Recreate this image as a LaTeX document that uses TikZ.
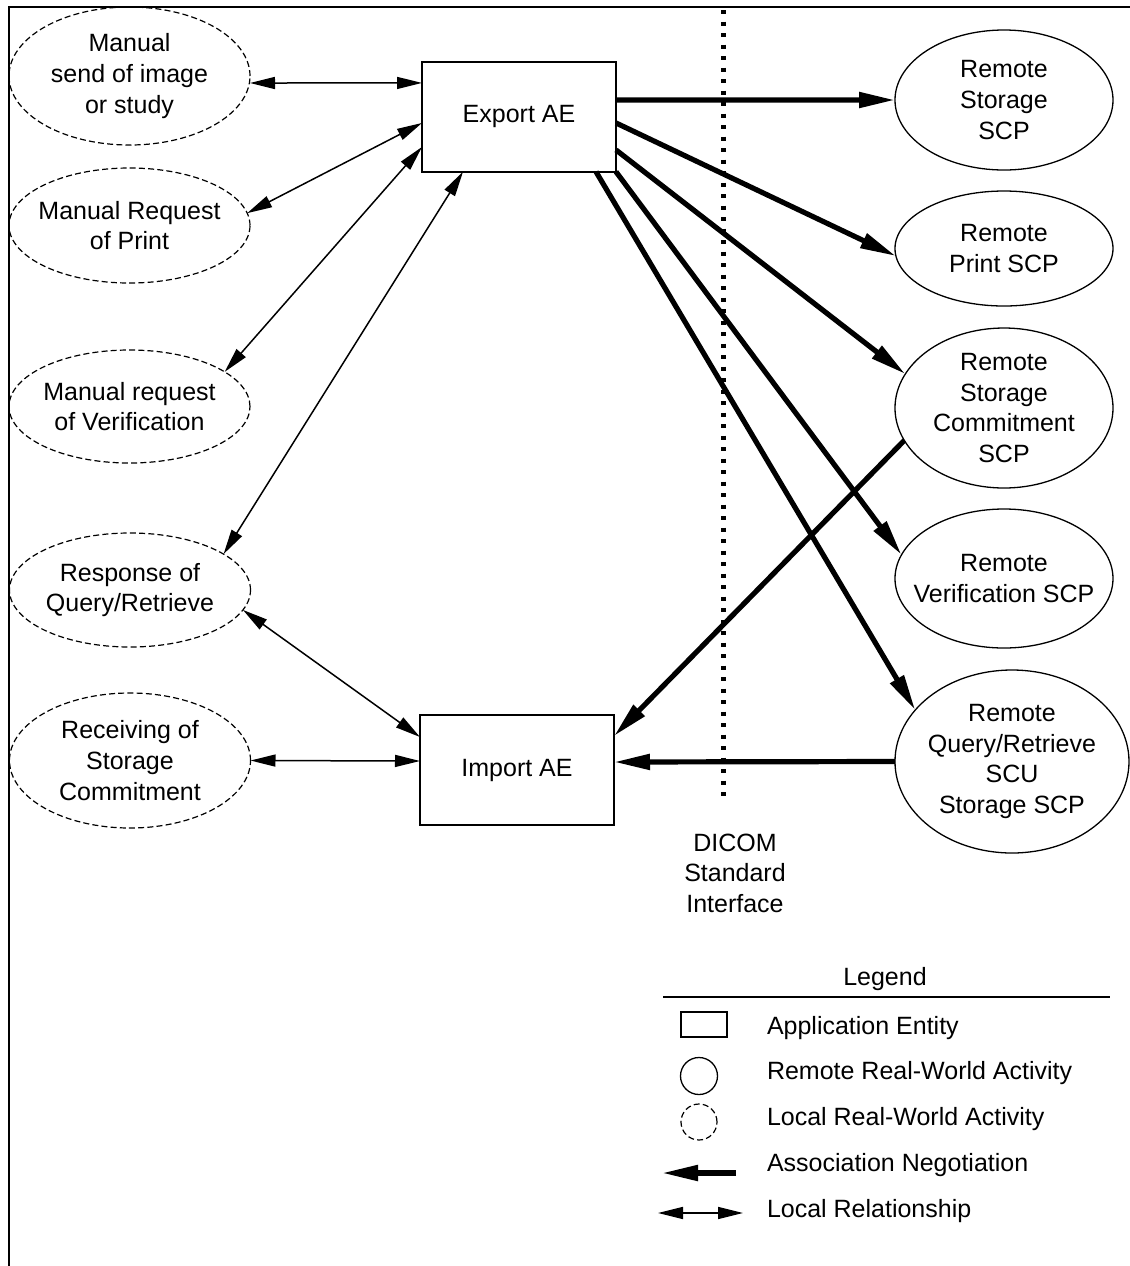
\documentclass[tikz,border=0pt]{standalone}
\usepackage{fontspec}
\setmainfont{Liberation Sans}
\usetikzlibrary{shapes.geometric}
\usetikzlibrary{arrows.meta}

\begin{document}
\begin{tikzpicture}[x=0.5pt,y=-0.5pt,
  font=\fontsize{12.5pt}{15.3pt}\selectfont,
  aebox/.style={rectangle,draw=drawColor,fill=fillColor,line width=0.8pt,minimum width=97pt,minimum height=55pt,inner sep=0pt,outer sep=0pt},
  remoteact/.style={ellipse,draw=drawColor,line width=0.65pt,minimum width=109pt,inner xsep=-8pt,inner ysep=-6pt,outer sep=0pt,align=center},
  localact/.style={ellipse,draw=drawColor,line width=0.6pt,dash pattern=on 3pt off 1.6pt,minimum width=120.5pt,inner xsep=-8pt,inner ysep=-6pt,outer sep=0pt,align=center},
  assoc/.style={draw=drawColor,line width=2.6pt,-{Triangle[length=18pt,width=7.5pt]}},
  localrel/.style={draw=drawColor,line width=0.75pt,{Triangle[length=12.5pt,width=6pt]}-{Triangle[length=12.5pt,width=6pt]}},
  legendtext/.style={anchor=mid west,inner sep=0pt,outer sep=0pt}]
\definecolor{fillColor}{RGB}{255,255,255}
\definecolor{drawColor}{RGB}{0,0,0}
\path[use as bounding box,fill=fillColor] (0,0) rectangle (1130,1266);

\begin{scope}
\path[draw=drawColor,line width=1pt] (1130,7) -- (9,7) -- (9,1266);
\end{scope}

\begin{scope}
\node[localact,minimum height=69pt] (lsend) at (129.5,76) {Manual\\send of image\\or study};
\node[localact,minimum height=57.5pt] (lprint) at (129.5,225.5) {Manual Request\\of Print};
\node[localact,minimum height=56.5pt] (lverif) at (129.5,406.5) {Manual request\\of Verification};
\node[localact,minimum height=57pt] (lresp) at (130,590) {Response of\\Query/Retrieve};
\node[localact,minimum height=67.5pt] (lrecv) at (130,760.5) {Receiving of\\Storage\\Commitment};

\node[aebox] (export) at (519,116.75) {Export AE};
\node[aebox] (import) at (517,770) {Import AE};

\node[remoteact,minimum height=70pt] (rstore) at (1004,100) {Remote\\Storage\\SCP};
\node[remoteact,minimum height=57.5pt] (rprint) at (1004,248.5) {Remote\\Print SCP};
\node[remoteact,minimum height=80pt] (rcommit) at (1004,408) {Remote\\Storage\\Commitment\\SCP};
\node[remoteact,minimum height=69.5pt] (rverif) at (1004,578.5) {Remote\\Verification SCP};
\node[remoteact,minimum width=117pt,minimum height=91.5pt] (rquery) at (1012,761.5) {Remote\\Query/Retrieve\\SCU\\Storage SCP};
\end{scope}

\begin{scope}
\path[localrel] ([yshift=-3.5pt]lsend.east) -- ([yshift=16.9pt]export.west);
\path[localrel] ([yshift=-3.1pt]export.west) -- (lprint.6);
\path[localrel] ([yshift=-15.1pt]export.west) -- (lverif.20);
\path[localrel] ([xshift=-28pt]export.south) -- (lresp.21);
\path[localrel] (lresp.-10) -- ([yshift=16.5pt]import.west);
\path[localrel] (lrecv.east) -- ([yshift=4.5pt]import.west);

\path[assoc] ([yshift=8.4pt]export.east) -- (rstore.west);
\path[assoc] ([yshift=-3.1pt]export.east) -- (rprint.184);
\path[assoc] ([yshift=-16.6pt]export.east) -- (rcommit.161);
\path[assoc] (export.south east) -- (rverif.167);
\path[assoc] ([xshift=38.5pt]export.south) -- (rquery.152);
\path[assoc] (rcommit.198) -- ([yshift=17pt]import.east);
\path[assoc] (rquery.west) -- ([yshift=4pt]import.east);
\end{scope}

\begin{scope}
\coordinate (ifacetop) at (723.5,10);
\coordinate (ifacebot) at (723.5,802);
\path[draw=drawColor,line width=2.2pt,dash pattern=on 2pt off 3.75pt] (ifacetop) -- (ifacebot);
\node[align=center,inner sep=0pt] (dicom) at (735,873) {DICOM\\Standard\\Interface};
\end{scope}

\begin{scope}
\node[inner sep=0pt] (legendtitle) at (885,979) {Legend};
\path[draw=drawColor,line width=1pt] (663,997) -- (1110,997);

\node[aebox,minimum width=23pt,minimum height=12.5pt] (legae) at (704,1024.5) {};
\node[remoteact,minimum size=18.5pt] (legremote) at (699,1076) {};
\node[localact,minimum size=18pt] (leglocal) at (699,1122) {};
\coordinate (assocstart) at (736,1173);
\coordinate (assocend) at (662,1173);
\path[assoc] (assocstart) -- (assocend);
\coordinate (relleft) at (658,1213);
\coordinate (relright) at (743,1213);
\path[localrel] (relleft) -- (relright);

\node[legendtext] (legaetext) at (767,1029) {Application Entity};
\node[legendtext] (legremotetext) at (767,1074) {Remote Real-World Activity};
\node[legendtext] (leglocaltext) at (767,1120) {Local Real-World Activity};
\node[legendtext] (legassoctext) at (767,1166) {Association Negotiation};
\node[legendtext] (legreltext) at (767,1212) {Local Relationship};
\end{scope}
\end{tikzpicture}
\end{document}
